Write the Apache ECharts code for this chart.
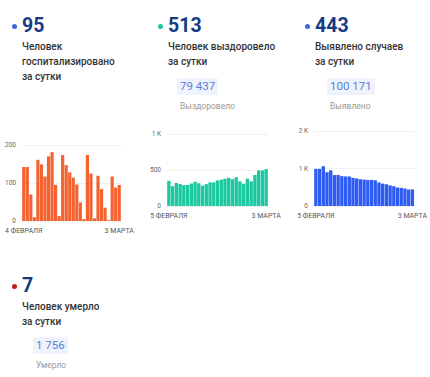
<!DOCTYPE html>
<html><head><meta charset="utf-8">
<script src="https://cdn.jsdelivr.net/npm/echarts@6/dist/echarts.min.js"></script>
<style>
html,body{margin:0;padding:0;background:#fff;}
#wrap{position:relative;width:430px;height:377px;overflow:hidden;font-family:Roboto,"Noto Sans",sans-serif;}
#chart{position:absolute;left:0;top:0;width:430px;height:377px;}
.dot{position:absolute;width:5px;height:5px;border-radius:50%;}
.num{position:absolute;font-weight:700;font-size:19.5px;line-height:21px;color:#173a85;}
.desc{position:absolute;font-size:10px;font-weight:500;line-height:15px;color:#333;}
.box{position:absolute;background:#eef3fd;color:#5a7fd8;font-size:11.5px;line-height:17px;height:17px;padding:0 3px;border-radius:2px;}
.lbl{position:absolute;font-size:8.5px;line-height:12px;color:#9a9a9a;}
</style></head>
<body><div id="wrap"><div id="chart"></div></div>
<script>
// ---- data ----
const hospDates = ["4 ФЕВРАЛЯ","5","6","7","8","9","10","11","12","13","14","15","16","17","18","19","20","21","22","23","24","25","26","27","28","1","2","3 МАРТА"];
const hospValues = [142,142,70,10,161,149,117,170,181,95,13,174,147,128,114,96,49,5,174,125,7,119,84,35,2,117,88,95];
const recDates = ["5 ФЕВРАЛЯ","6","7","8","9","10","11","12","13","14","15","16","17","18","19","20","21","22","23","24","25","26","27","28","1","2","3 МАРТА"];
const recValues = [350,275,320,305,290,292,312,338,316,283,303,328,328,355,366,378,390,372,400,342,310,380,342,432,495,495,513];
const caseDates = recDates;
const caseValues = [990,990,1060,900,950,825,828,797,788,788,752,735,712,704,695,695,686,628,597,580,549,527,492,483,465,440,443];
const yTicks1 = {0:"0",100:"100",200:"200"};
const yTicks2 = {0:"0",500:"500",1000:"1 K"};
const yTicks3 = {0:"0",1000:"1 K",2000:"2 K"};
const panels = [
  {num:"95", desc:["Человек","госпитализировано","за сутки"], total:null, label:null, dot:"#3a66e0", x:22, y:0},
  {num:"513", desc:["Человек выздоровело","за сутки"], total:"79 437", label:"Выздоровело", dot:"#1fc4a0", x:168, y:0},
  {num:"443", desc:["Выявлено случаев","за сутки"], total:"100 171", label:"Выявлено", dot:"#3a66e0", x:315, y:0},
  {num:"7", desc:["Человек умерло","за сутки"], total:"1 756", label:"Умерло", dot:"#c4161c", x:22, y:260}
];

// ---- text panels ----
const wrap = document.getElementById('wrap');
function add(cls, txt, css){ const d=document.createElement('div'); d.className=cls; if(txt!==null) d.innerHTML=txt; Object.assign(d.style,css); wrap.appendChild(d); return d; }
panels.forEach((p,i)=>{
  add('dot', '', {left:(p.x-10)+'px', top:(p.y+23.5)+'px', background:p.dot});
  add('num', p.num, {left:p.x+'px', top:(p.y+14.5)+'px'});
  add('desc', p.desc.join('<br>'), {left:p.x+'px', top:(p.y+38.5)+'px'});
  if(p.total){
    const bx = i===3 ? 33 : (i===1 ? 177 : 327);
    const by = i===3 ? 337 : 78;
    add('box', p.total, {left:bx+'px', top:by+'px'});
    add('lbl', p.label, {left:(bx+3)+'px', top:(by+22)+'px'});
  }
});

// ---- charts ----
const chart = echarts.init(document.getElementById('chart'), null, {renderer:'svg'});
const grids = [
  {left:22, width:99, top:145, height:76},
  {left:167, width:101, top:134, height:72},
  {left:314, width:101, top:131, height:75}
];
const datasets = [
  {cats:hospDates, vals:hospValues, color:'#f5612f', max:200, interval:100, ticks:yTicks1},
  {cats:recDates, vals:recValues, color:'#1bc8a0', max:1000, interval:500, ticks:yTicks2},
  {cats:caseDates, vals:caseValues, color:'#2f5bf5', max:2000, interval:1000, ticks:yTicks3}
];
const option = {
  animation:false,
  grid: grids,
  xAxis: datasets.map((d,i)=>({
    type:'category', gridIndex:i, data:d.cats,
    axisLine:{show:false}, axisTick:{show:false},
    axisLabel:{interval:(idx)=> idx===0 || idx===d.cats.length-1, fontSize:7, color:'#555', margin:6, fontFamily:'Roboto', showMinLabel:true, showMaxLabel:true, hideOverlap:false}
  })),
  yAxis: datasets.map((d,i)=>({
    type:'value', gridIndex:i, min:0, max:d.max, interval:d.interval,
    axisLine:{show:false}, axisTick:{show:false},
    splitLine:{lineStyle:{color:'#f0f0f0', width:1}},
    axisLabel:{fontSize:6.5, color:'#666', margin:6, fontFamily:'Roboto', formatter:(v)=>d.ticks[v]}
  })),
  series: datasets.map((d,i)=>({
    type:'bar', xAxisIndex:i, yAxisIndex:i, data:d.vals,
    barCategoryGap:'10%', itemStyle:{color:d.color}
  }))
};
chart.setOption(option);
</script></body></html>
